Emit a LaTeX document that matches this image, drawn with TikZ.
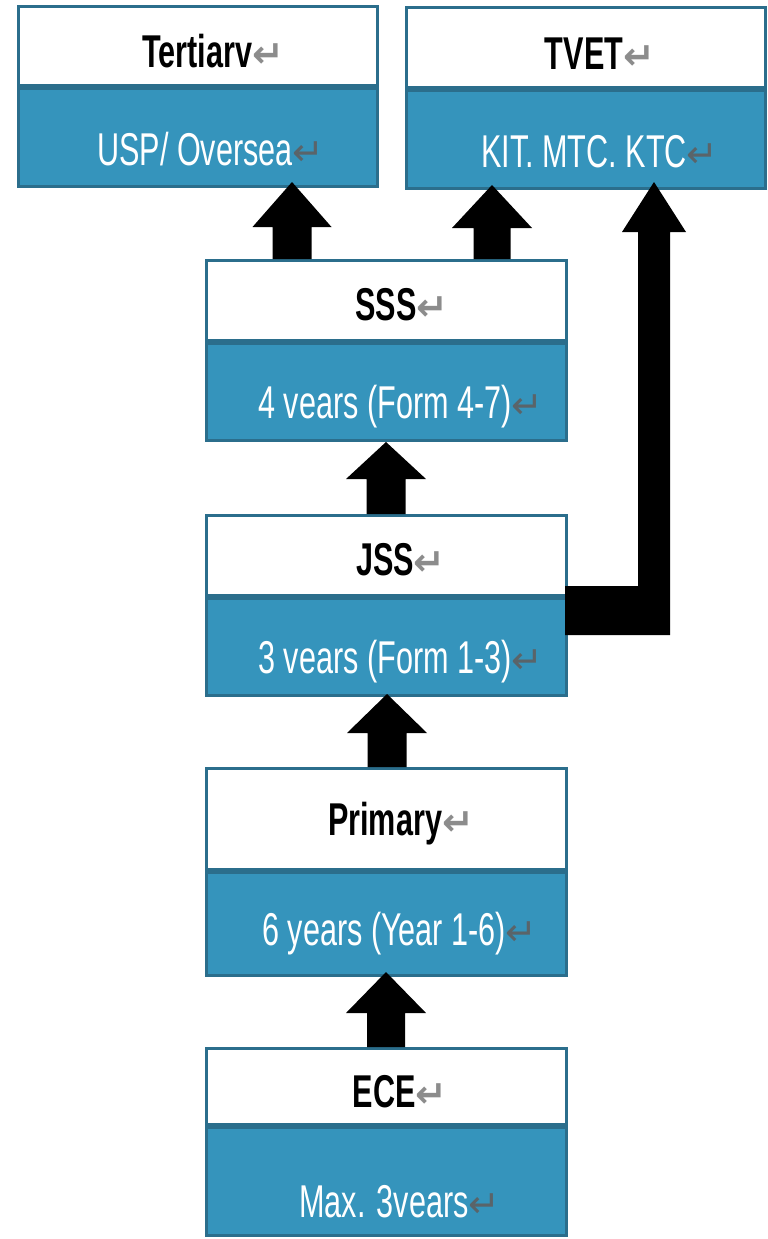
\documentclass[tikz,border=0pt]{standalone}
\usepackage{fontspec}
\newfontfamily\nar{Liberation Sans}[FakeStretch=0.665]
\newfontfamily\dvs{DejaVu Sans}
\usetikzlibrary{calc}
\definecolor{boxblue}{RGB}{53,148,188}
\definecolor{bord}{RGB}{43,110,140}
\definecolor{markw}{RGB}{140,140,140}
\definecolor{markb}{RGB}{90,100,105}
\newcommand\pmw{{\dvs\fontsize{38}{38}\selectfont\color{markw}↵}}
\newcommand\pmb{{\dvs\fontsize{38}{38}\selectfont\color{markb}↵}}
\newcommand\blkarrow[7]{%
  \fill[arr] ($({#1},0 |- #2.south)+(0,-#7)$) -- ++({#5},{#4}) coordinate (hr)
    -- ++({-(#5)+(#6)},0) -- ({#1+#6},0 |- #3.north) -- ({#1-#6},0 |- #3.north)
    -- ({#1-#6},0 |- hr) -- ({#1-#5},0 |- hr) -- cycle;}
\begin{document}
\begin{tikzpicture}[x=1pt,y=-1pt,
  hdr/.style={draw=bord,line width=3pt,fill=white,anchor=north west,inner sep=0pt},
  bdy/.style={draw=bord,line width=3pt,fill=boxblue,anchor=north west,inner sep=0pt},
  ttl/.style={anchor=base,inner sep=0pt,font=\nar\bfseries\fontsize{46}{46}\selectfont,text=black},
  txt/.style={anchor=base,inner sep=0pt,font=\nar\fontsize{46}{46}\selectfont,text=white},
  arr/.style={fill=black}]
\useasboundingbox (0,0) rectangle (768,1239);
% boxes
\node[hdr,minimum width=359pt,minimum height=79pt] (tertT) at (17,5) {};
\node[bdy,minimum width=359pt,minimum height=98pt] (tertB) at (17,87) {};
\node[hdr,minimum width=359pt,minimum height=80pt] (tvetT) at (405,6) {};
\node[bdy,minimum width=359pt,minimum height=98pt] (tvetB) at (405,89) {};
\node[hdr,minimum width=360pt,minimum height=80pt] (sssT) at (205,259) {};
\node[bdy,minimum width=360pt,minimum height=97pt] (sssB) at (205,342) {};
\node[hdr,minimum width=360pt,minimum height=80pt] (jssT) at (205,514) {};
\node[bdy,minimum width=360pt,minimum height=97pt] (jssB) at (205,597) {};
\node[hdr,minimum width=360pt,minimum height=101pt] (primT) at (205,767) {};
\node[bdy,minimum width=360pt,minimum height=103pt] (primB) at (205,871) {};
\node[hdr,minimum width=360pt,minimum height=76pt] (eceT) at (205,1047) {};
\node[bdy,minimum width=360pt,minimum height=108pt] (eceB) at (205,1126) {};
% texts
\node[ttl] (tertTx) at (213,67) {Tertiarv\pmw};
\node[txt] (tertBx) at (211,165) {USP/ Oversea\pmb};
\node[ttl] (tvetTx) at (600,70) {TVET\pmw};
\node[txt] (tvetBx) at (600,167) {KIT. MTC. KTC\pmb};
\node[ttl] (sssTx) at (402,320) {SSS\pmw};
\node[txt] (sssBx) at (401,418) {4 vears (Form 4-7)\pmb};
\node[ttl] (jssTx) at (401,575) {JSS\pmw};
\node[txt] (jssBx) at (401,673) {3 vears (Form 1-3)\pmb};
\node[ttl] (primTx) at (401,835) {Primary\pmw};
\node[txt] (primBx) at (400,945) {6 years (Year 1-6)\pmb};
\node[ttl] (eceTx) at (400,1107) {ECE\pmw};
\node[txt] (eceBx) at (400,1217) {Max. 3vears\pmb};
% arrows
\blkarrow{292}{tertB}{sssT}{45}{39.5}{19.5}{6}
\blkarrow{492}{tvetB}{sssT}{43}{40}{18.5}{5}
\blkarrow{386}{sssB}{jssT}{37}{40}{19.5}{0}
\blkarrow{387}{jssB}{primT}{39}{40}{19.5}{3}
\blkarrow{386}{primB}{eceT}{41}{40}{19}{5}
\fill[arr] ($(jssB.east |- 0,586)+(-3,0)$) -- (638,586) -- (638,232) -- (622,232)
  -- ($(654,0 |- tvetB.south)+(0,-8)$) -- (686,232) -- (670,232) -- (670,635)
  -- ($(jssB.east |- 0,635)+(-3,0)$) -- cycle;
\end{tikzpicture}
\end{document}
